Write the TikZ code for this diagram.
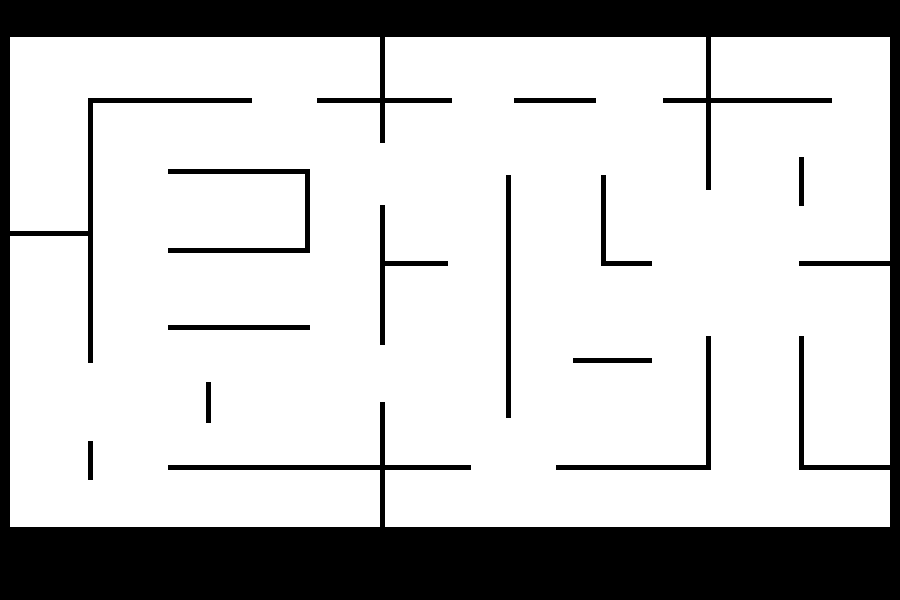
\documentclass[tikz,border=0pt]{standalone}
\begin{document}
\begin{tikzpicture}[x=1pt,y=-1pt,
  wall/.style={line width=5pt, black, line cap=butt, line join=miter}]
\useasboundingbox (0,0) rectangle (900,600);
\fill[black] (0,0) rectangle (900,600);
\fill[white] (10,37) rectangle (890,527);
\draw[wall] (90.5,362.5) -- (90.5,100.5) -- (252,100.5);
\draw[wall] (10,233.5) -- (90.5,233.5);
\draw[wall] (168,171.5) -- (307.5,171.5) -- (307.5,250.5) -- (168,250.5);
\draw[wall] (168,327.5) -- (310,327.5);
\draw[wall] (208.5,382) -- (208.5,422.5);
\draw[wall] (90.5,441) -- (90.5,480);
\draw[wall] (168,467.5) -- (471,467.5);
\draw[wall] (382.5,402) -- (382.5,527);
\draw[wall] (382.5,37) -- (382.5,142.5);
\draw[wall] (317,100.5) -- (452,100.5);
\draw[wall] (514,100.5) -- (596,100.5);
\draw[wall] (382.5,205) -- (382.5,345);
\draw[wall] (382.5,263) -- (447.5,263);
\draw[wall] (508.5,175) -- (508.5,417.5);
\draw[wall] (603.5,175) -- (603.5,263) -- (652,263);
\draw[wall] (663,100.5) -- (832,100.5);
\draw[wall] (708.5,37) -- (708.5,190);
\draw[wall] (801.5,157) -- (801.5,205.5);
\draw[wall] (799,263) -- (890,263);
\draw[wall] (573,360.5) -- (652,360.5);
\draw[wall] (556,467.5) -- (708.5,467.5) -- (708.5,336);
\draw[wall] (801.5,336) -- (801.5,467.5) -- (890,467.5);
\end{tikzpicture}
\end{document}
